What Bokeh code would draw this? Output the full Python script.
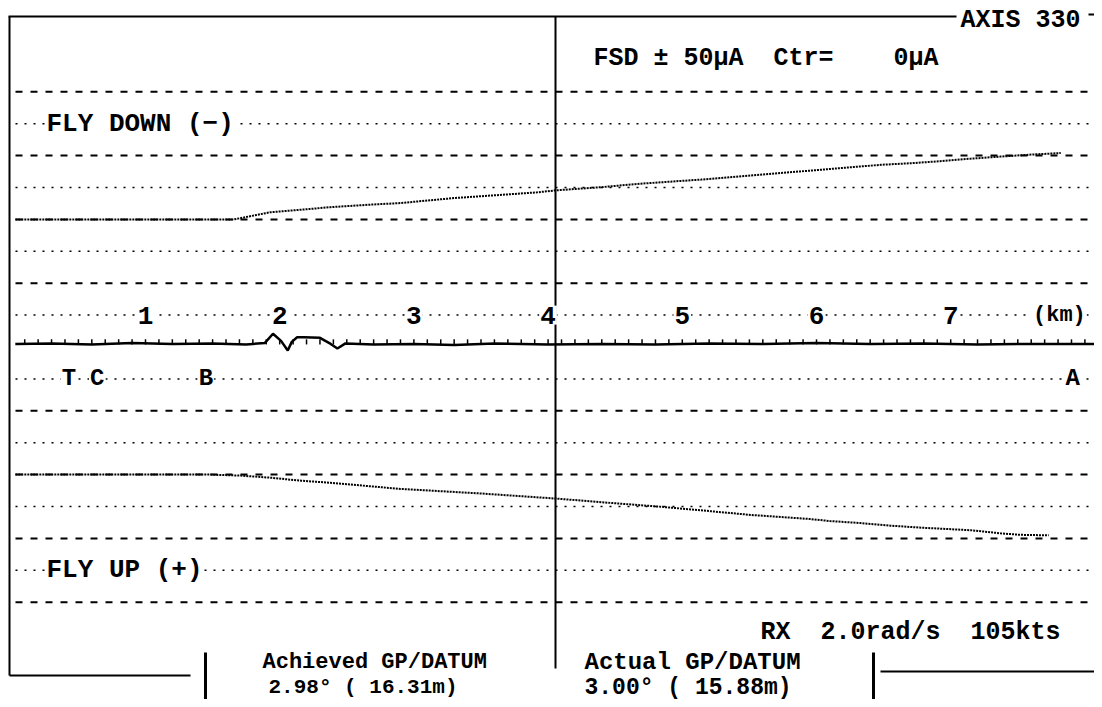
import numpy as np
from bokeh.plotting import figure
from bokeh.models import Range1d
from bokeh.core.properties import value
from bokeh.embed import file_html
from bokeh.resources import INLINE

# ---------------- data ----------------
km_ticks = [1, 2, 3, 4, 5, 6, 7]
km_tick_labels = ["1", "2", "3", "4", "5", "6", "7"]
km_unit_label = "(km)"
km_unit_pos = 7.81

marker_names = ["T", "C", "B", "A"]
marker_km = [0.43, 0.64, 1.45, 7.91]

grid_step = 6.25          # microamps per grid line (FSD 50 uA = 8 lines)
fsd_ua = 50
ctr_ua = 0
axis_deg = 330
rx_rate = 2.0
speed_kts = 105
achieved_deg, achieved_m = 2.98, 16.31
actual_deg, actual_m = 3.00, 15.88

# upper (fly-down side) beam edge
dn_km = [0.03, 1.66, 1.93, 2.16, 2.38, 2.68, 2.90, 3.10, 3.31, 3.70, 3.92, 4.06, 4.39,
         4.69, 5.14, 5.51, 5.88, 6.25, 6.48, 6.70, 6.92, 7.15, 7.37, 7.60, 7.82]
dn_ua = [-25.0, -25.0, -26.4, -26.9, -27.4, -27.9, -28.2, -28.7, -29.2, -29.9, -30.3, -30.7, -31.3,
         -32.0, -32.8, -33.6, -34.4, -35.2, -35.7, -36.0, -36.4, -36.9, -37.3, -37.7, -38.0]

# lower (fly-up side) beam edge
up_km = [0.03, 1.48, 1.71, 1.93, 2.16, 2.38, 2.68, 2.90, 3.50, 4.06, 4.54, 4.84, 5.14,
         5.51, 5.73, 5.95, 6.10, 6.33, 6.55, 6.78, 7.15, 7.37, 7.52, 7.73]
up_ua = [25.0, 25.0, 25.2, 25.6, 26.2, 26.6, 27.3, 27.8, 28.7, 29.7, 30.7, 31.3, 32.0,
         32.9, 33.3, 33.7, 34.1, 34.5, 35.0, 35.4, 35.9, 36.5, 36.8, 36.9]

# centre (course) trace
c_km = [0.03, 0.3, 0.6, 0.9, 1.2, 1.5, 1.75, 1.89, 1.95, 2.01, 2.06, 2.09, 2.13, 2.18, 2.30,
        2.38, 2.43, 2.49, 2.7, 3.0, 3.3, 3.6, 4.0, 4.4, 4.8, 5.2, 5.6, 6.0, 6.4, 6.8, 7.2,
        7.6, 8.0, 8.13]
c_ua = [-0.6, -0.7, -0.5, -0.8, -0.6, -0.7, -0.5, -0.8, -2.6, -1.2, 0.7, -1.0, -1.9, -1.9, -1.8,
        -0.6, 0.3, -0.7, -0.5, -0.6, -0.4, -0.7, -0.5, -0.6, -0.5, -0.7, -0.6, -0.8, -0.6, -0.7,
        -0.5, -0.6, -0.6, -0.6]

# ---------------- layout helpers (picture pixels -> data) ----------------
W, H = 1094, 699
X0, SX = 10.8, 134.2      # px of 0 km, px per km
Y0, SY = 346.5, 5.104     # px of 0 uA, px per uA (positive = fly up, drawn lower)


def kx(px):
    return (px - X0) / SX


def uy(py):
    return (py - Y0) / SY


NB = "\u00a0"

p = figure(width=W, height=H, output_backend="svg", toolbar_location=None,
           x_range=Range1d(kx(0), kx(W)), y_range=Range1d(uy(H), uy(0)),
           x_axis_location=None, y_axis_location=None, min_border=0,
           outline_line_color=None, background_fill_color="white")
p.grid.visible = False

# horizontal reference lines every grid_step (dashed on even, dotted on odd)
dashed_levels = [k * grid_step for k in (-8, -6, -4, -2, 2, 4, 6, 8)]
dotted_levels = [k * grid_step for k in (-7, -5, -3, -1, 1, 3, 5, 7)]
gx0, gx1 = kx(15), kx(1100)
p.segment(x0=[gx0] * 8, y0=dashed_levels, x1=[gx1] * 8, y1=dashed_levels,
          line_color="black", line_width=2, line_dash="7 8")
p.segment(x0=[gx0] * 8, y0=dotted_levels, x1=[gx1] * 8, y1=dotted_levels,
          line_color="black", line_width=1.5, line_dash="2 7")

# frame
frame = [((8, 16), (956, 16)), ((1088, 14), (1102, 14)), ((9, 16), (9, 675)),
         ((9, 675), (190, 675)), ((555, 16), (555, 668)), ((880, 671), (1102, 671))]
p.segment(x0=[kx(a[0]) for a, b in frame], y0=[uy(a[1]) for a, b in frame],
          x1=[kx(b[0]) for a, b in frame], y1=[uy(b[1]) for a, b in frame],
          line_color="black", line_width=2)
bars = [((205, 652), (205, 707)), ((873, 652), (873, 707))]
p.segment(x0=[kx(a[0]) for a, b in bars], y0=[uy(a[1]) for a, b in bars],
          x1=[kx(b[0]) for a, b in bars], y1=[uy(b[1]) for a, b in bars],
          line_color="black", line_width=3)

# beam edges
p.line(dn_km, dn_ua, line_color="black", line_width=2, line_dash="2 1")
p.line(up_km, up_ua, line_color="black", line_width=2, line_dash="2 1")

# centre trace with 0.1 km tick marks
p.line(c_km, c_ua, line_color="black", line_width=2.5)
tick_km = np.arange(0.1, 8.05, 0.1)
p.segment(x0=tick_km, y0=np.full(len(tick_km), -0.5), x1=tick_km, y1=np.full(len(tick_km), -1.5),
          line_color="black", line_width=1.5)

FONT = value("Liberation Mono")

# km labels on the first dotted line above centre
p.text(x=km_ticks, y=[-grid_step] * len(km_ticks), text=km_tick_labels,
       text_font=FONT, text_font_style="bold", text_font_size="26px",
       text_align="center", text_baseline="middle",
       background_fill_color="white", padding=1)
p.text(x=[km_unit_pos], y=[-grid_step], text=[km_unit_label],
       text_font=FONT, text_font_style="bold", text_font_size="22px",
       text_align="center", text_baseline="middle",
       background_fill_color="white", padding=1)

# marker letters on first dotted line below centre
p.text(x=marker_km, y=[grid_step] * len(marker_km), text=marker_names,
       text_font=FONT, text_font_style="bold", text_font_size="24px",
       text_align="center", text_baseline="middle",
       background_fill_color="white", padding=1)

# fly down / fly up
p.text(x=[kx(45), kx(45)], y=[-7 * grid_step, 7 * grid_step],
       text=["FLY" + NB + "DOWN" + NB + "(\u2212)", "FLY" + NB + "UP" + NB + "(+)"],
       text_font=FONT, text_font_style="bold", text_font_size="26px",
       text_align="left", text_baseline="middle",
       background_fill_color="white", padding=1)

# header / footer texts (x, y, text, size)
texts = [
    (960, 20, f"AXIS{NB}{axis_deg}", 25),
    (593, 58, f"FSD{NB}\u00b1{NB}{fsd_ua}\u03bcA{NB*2}Ctr={NB*4}{ctr_ua}\u03bcA", 25),
    (760, 632, f"RX{NB*2}{rx_rate:.1f}rad/s{NB*2}{speed_kts}kts", 25),
    (262, 662, f"Achieved{NB}GP/DATUM", 22),
    (268, 687, f"{achieved_deg:.2f}\u00b0{NB}({NB}{achieved_m:.2f}m)", 21),
    (584, 662, f"Actual{NB}GP/DATUM", 24),
    (584, 687, f"{actual_deg:.2f}\u00b0{NB}({NB}{actual_m:.2f}m)", 23),
]
for tx, ty, tt, ts in texts:
    p.text(x=[kx(tx)], y=[uy(ty)], text=[tt],
           text_font=FONT, text_font_style="bold", text_font_size=f"{ts}px",
           text_align="left", text_baseline="middle",
           background_fill_color="white")

open("out.html", "w").write(file_html(p, INLINE))
